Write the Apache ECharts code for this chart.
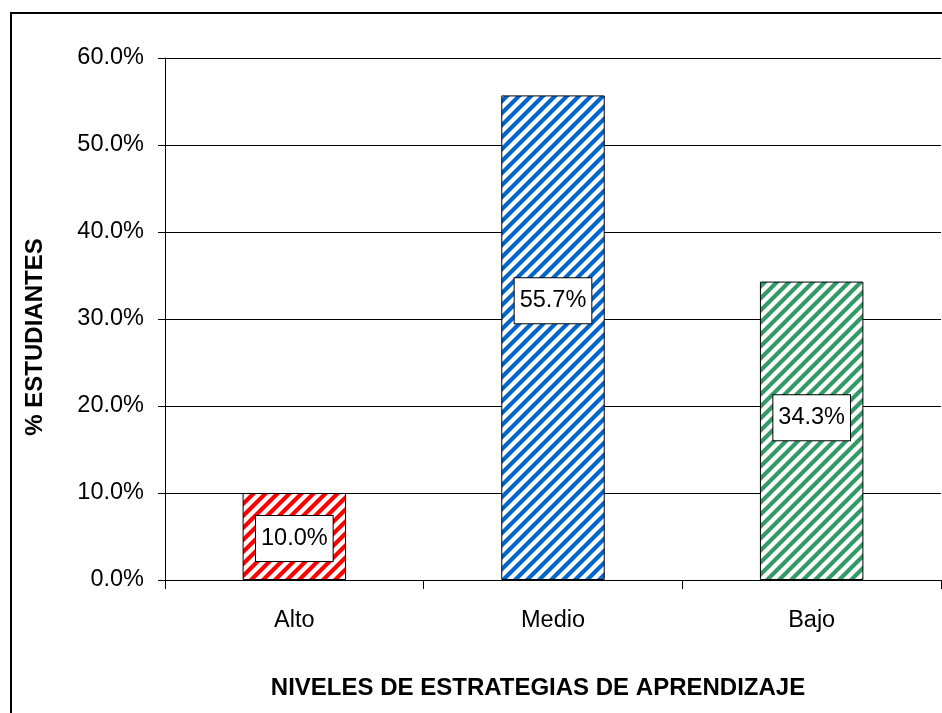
<!DOCTYPE html>
<html>
<head>
<meta charset="utf-8">
<script src="https://cdn.jsdelivr.net/npm/echarts@6/dist/echarts.min.js"></script>
<style>
html,body{margin:0;padding:0;background:#fff;}
#chart{width:942px;height:713px;}
</style>
</head>
<body>
<div id="chart"></div>
<script>
const categories = ['Alto', 'Medio', 'Bajo'];
const values = [10.0, 55.7, 34.3];
const barColors = ['#ff0000', '#0066cc', '#339966'];
const labelOffsets = [[0, 2], [0, -37], [0, -13]];
const yTicks = [0, 10, 20, 30, 40, 50, 60];

const FONT = "'Liberation Sans', Arial, sans-serif";

function stripe(color) {
  const n = 12;
  const c = document.createElement('canvas');
  c.width = n; c.height = n;
  const ctx = c.getContext('2d');
  ctx.fillStyle = '#fff';
  ctx.fillRect(0, 0, n, n);
  ctx.fillStyle = color;
  for (let y = 0; y < n; y++) {
    for (let x = 0; x < n; x++) {
      const d = (x + y) % n;
      if (d < 5) { ctx.globalAlpha = 1; ctx.fillRect(x, y, 1, 1); }
      else if (d === 5 || d === n - 1) { ctx.globalAlpha = 0.45; ctx.fillRect(x, y, 1, 1); }
    }
  }
  ctx.globalAlpha = 1;
  return { image: c, repeat: 'repeat' };
}

const chart = echarts.init(document.getElementById('chart'), null, { renderer: 'canvas' });

const data = values.map((v, i) => ({
  value: v,
  itemStyle: { color: stripe(barColors[i]), borderColor: '#000', borderWidth: 1 },
  label: { offset: labelOffsets[i] }
}));

chart.setOption({
  animation: false,
  backgroundColor: '#fff',
  grid: { left: 165, top: 58, right: 1, bottom: 133, containLabel: false },
  xAxis: {
    type: 'category',
    data: categories,
    axisLine: { show: true, lineStyle: { color: '#000', width: 1 } },
    axisTick: { show: true, length: 9, alignWithLabel: false, lineStyle: { color: '#000' } },
    axisLabel: { color: '#000', fontSize: 23.5, fontFamily: FONT, margin: 29 },
    splitLine: { show: false }
  },
  yAxis: {
    type: 'value',
    min: yTicks[0],
    max: yTicks[yTicks.length - 1],
    interval: 10,
    axisLine: { show: true, lineStyle: { color: '#000', width: 1 } },
    axisTick: { show: true, length: 7, lineStyle: { color: '#000' } },
    axisLabel: { color: '#000', fontSize: 23.5, fontFamily: FONT, margin: 21,
      formatter: v => v.toFixed(1) + '%' },
    splitLine: { show: true, lineStyle: { color: '#000', width: 1 } }
  },
  series: [{
    type: 'bar',
    data: data,
    barWidth: '40%',
    label: {
      show: true,
      position: 'inside',
      formatter: p => p.value.toFixed(1) + '%',
      color: '#000',
      fontSize: 23.5,
      fontFamily: FONT,
      backgroundColor: '#fff',
      borderColor: '#000',
      borderWidth: 1,
      padding: [11, 5, 10, 5]
    }
  }],
  graphic: [
    { type: 'rect', shape: { x: 11, y: 13, width: 1000, height: 1000 },
      style: { fill: 'none', stroke: '#000', lineWidth: 2 }, z: 100 },
    { type: 'text', x: 538, y: 688,
      style: { text: 'NIVELES DE ESTRATEGIAS DE APRENDIZAJE', fill: '#000',
        font: 'bold 24px ' + FONT, textAlign: 'center', textVerticalAlign: 'middle' } },
    { type: 'text', x: 35, y: 337, rotation: Math.PI / 2,
      style: { text: '% ESTUDIANTES', fill: '#000',
        font: 'bold 24px ' + FONT, textAlign: 'center', textVerticalAlign: 'middle' } }
  ]
});
</script>
</body>
</html>
